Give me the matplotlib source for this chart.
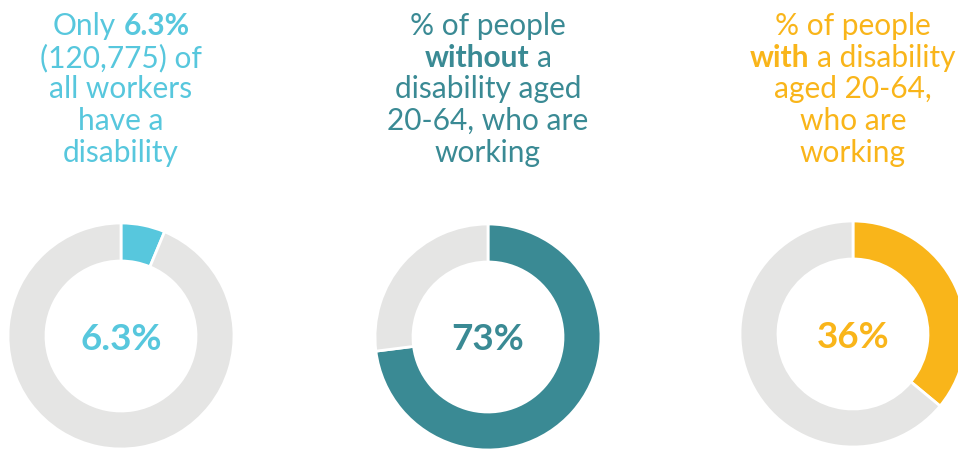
import matplotlib.pyplot as plt

plt.rcParams['font.family'] = ['Lato', 'DejaVu Sans']

# Data
values = [6.3, 73, 36]
centre_labels = ['6.3%', '73%', '36%']
colours = ['#57C7DD', '#3A8A94', '#F9B51A']
rest_colour = '#E5E5E4'

# title lines: list of (text, bold) segments
titles = [
    [[('Only', False), ('6.3%', True)],
     [('(120,775) of', False)],
     [('all workers', False)],
     [('have a', False)],
     [('disability', False)]],
    [[('% of people', False)],
     [('without', True), ('a', False)],
     [('disability aged', False)],
     [('20-64, who are', False)],
     [('working', False)]],
    [[('% of people', False)],
     [('with', True), ('a disability', False)],
     [('aged 20-64,', False)],
     [('who are', False)],
     [('working', False)]],
]

W, H = 958, 449
centres = [(121, 336), (488, 337), (853, 334)]
radius = 113
ring = 38
title_fs = 21.5
label_fs = 26.5
baselines = [35, 67, 98, 130, 162]

fig = plt.figure(figsize=(W / 100, H / 100), dpi=100)
ax = fig.add_axes([0, 0, 1, 1])

for v, c, (cx, cy) in zip(values, colours, centres):
    ax.pie([v, 100 - v], colors=[c, rest_colour], startangle=90,
           counterclock=False, radius=radius, center=(cx, H - cy),
           wedgeprops=dict(width=ring, edgecolor='white', linewidth=2))

ax.set_xlim(0, W)
ax.set_ylim(0, H)
ax.set_aspect('equal')
ax.axis('off')

renderer = fig.canvas.get_renderer()


def text_width(s, bold):
    t = ax.text(0, 0, s, fontsize=title_fs, fontweight='bold' if bold else 'normal')
    w = t.get_window_extent(renderer).width
    t.remove()
    return w


space = text_width('a a', False) - text_width('aa', False)

for lines, c, (cx, cy) in zip(titles, colours, centres):
    for segs, by in zip(lines, baselines):
        widths = [text_width(s, b) for s, b in segs]
        total = sum(widths) + space * (len(segs) - 1)
        x = cx - total / 2
        for (s, b), w in zip(segs, widths):
            ax.text(x, H - by, s, fontsize=title_fs, color=c, ha='left', va='baseline',
                    fontweight='bold' if b else 'normal')
            x += w + space

for lab, c, (cx, cy) in zip(centre_labels, colours, centres):
    ax.text(cx, H - cy, lab, fontsize=label_fs, fontweight='bold', color=c,
            ha='center', va='center_baseline')

fig.savefig('out.png', dpi=100)
